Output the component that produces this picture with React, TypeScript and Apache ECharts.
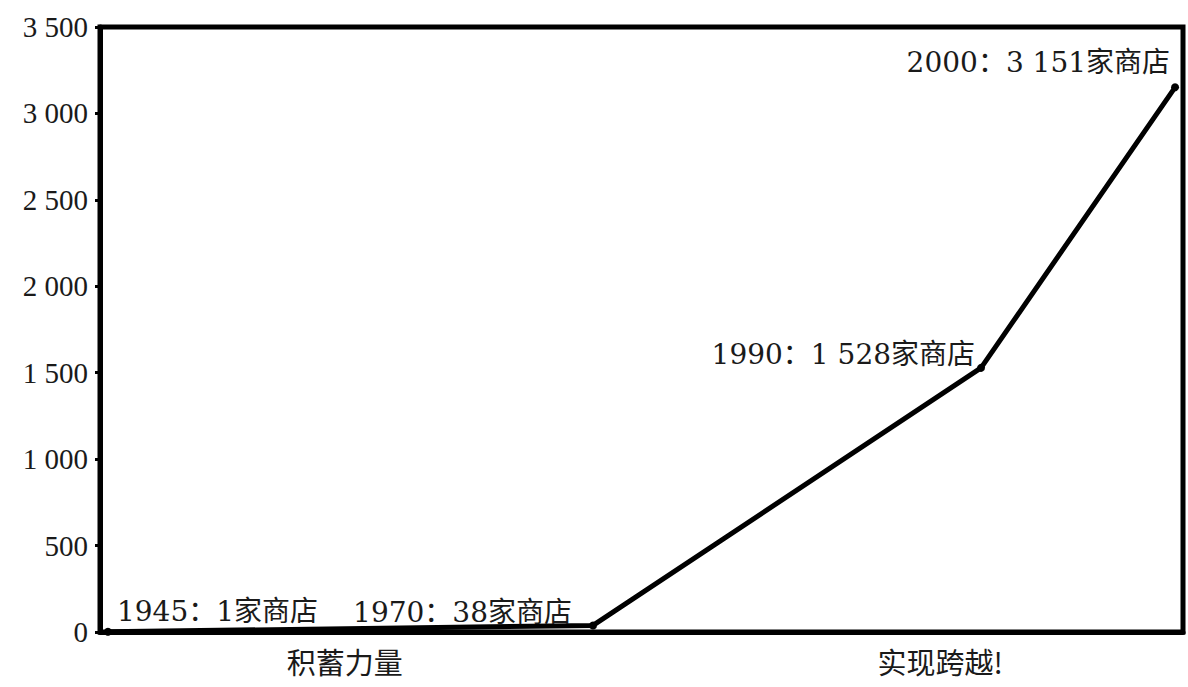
import React, { useEffect, useRef } from "react";
import * as echarts from "echarts";

const years = [1945, 1970, 1990, 2000];
const stores = [1, 38, 1528, 3151];
const phaseNames = ["积蓄力量", "实现跨越!"];
const phaseYears = [1957.2, 1987.9];
const yMin = 0;
const yMax = 3500;
const yStep = 500;

const fmt = (v: number) => {
  const s = String(Math.round(v));
  return s.replace(/\B(?=(\d{3})+(?!\d))/g, " ");
};

const TICK_FONT = "'Liberation Serif', 'Noto Sans CJK SC', serif";
const LABEL_FONT = "'DejaVu Serif', 'Noto Sans CJK SC', serif";
const CJK_FONT = "'Noto Sans CJK SC', serif";

export default function App() {
  const ref = useRef<HTMLDivElement>(null);
  useEffect(() => {
    if (!ref.current) return;
    const chart = echarts.init(ref.current, null, { renderer: "svg" });
    const labelCfg = [
      { position: "right", offset: [0, -20] },
      { position: "left", offset: [-12, -13] },
      { position: "left", offset: [3, -13] },
      { position: "left", offset: [4, -25] },
    ];
    const data = years.map((y, i) => ({
      value: [y, stores[i]],
      label: { show: true, ...labelCfg[i] },
    }));
    chart.setOption({
      animation: false,
      backgroundColor: "#fff",
      grid: {
        left: 100,
        right: 5,
        top: 27,
        bottom: 55,
        show: true,
        borderColor: "#000",
        borderWidth: 5,
      },
      xAxis: {
        type: "value",
        min: 1944.59,
        max: 2000.41,
        splitLine: { show: false },
        axisLine: { show: true, lineStyle: { color: "#000", width: 5 } },
        axisTick: { show: false },
        axisLabel: { show: false },
      },
      yAxis: {
        type: "value",
        min: yMin,
        max: yMax,
        interval: yStep,
        splitLine: { show: false },
        axisLine: { show: true, lineStyle: { color: "#000", width: 5 } },
        axisTick: { show: true, length: 5, lineStyle: { color: "#000", width: 3 } },
        axisLabel: {
          formatter: (v: number) => fmt(v),
          color: "#1a1a1a",
          fontSize: 29,
          fontFamily: TICK_FONT,
          margin: 12,
        },
      },
      series: [
        {
          type: "line",
          data,
          symbol: "circle",
          symbolSize: 8,
          itemStyle: { color: "#000" },
          lineStyle: { color: "#000", width: 5 },
          label: {
            formatter: (p: any) => `${p.value[0]}：${fmt(p.value[1])}家商店`,
            color: "#1a1a1a",
            fontSize: 28,
            fontFamily: LABEL_FONT,
          },
        },
      ],
    });
    const graphics = phaseYears.map((yr, i) => {
      const pt = chart.convertToPixel({ xAxisIndex: 0, yAxisIndex: 0 }, [yr, yMin]) as number[];
      return {
        type: "text",
        x: pt[0],
        y: pt[1] + 14,
        style: {
          text: phaseNames[i],
          fill: "#1a1a1a",
          fontSize: 29,
          fontFamily: CJK_FONT,
          textAlign: "center",
          textVerticalAlign: "top",
        },
      };
    });
    chart.setOption({ graphic: graphics });
    return () => chart.dispose();
  }, []);
  return (
    <div
      ref={ref}
      style={{ position: "absolute", left: 0, top: 0, width: 1188, height: 687, background: "#fff" }}
    />
  );
}
